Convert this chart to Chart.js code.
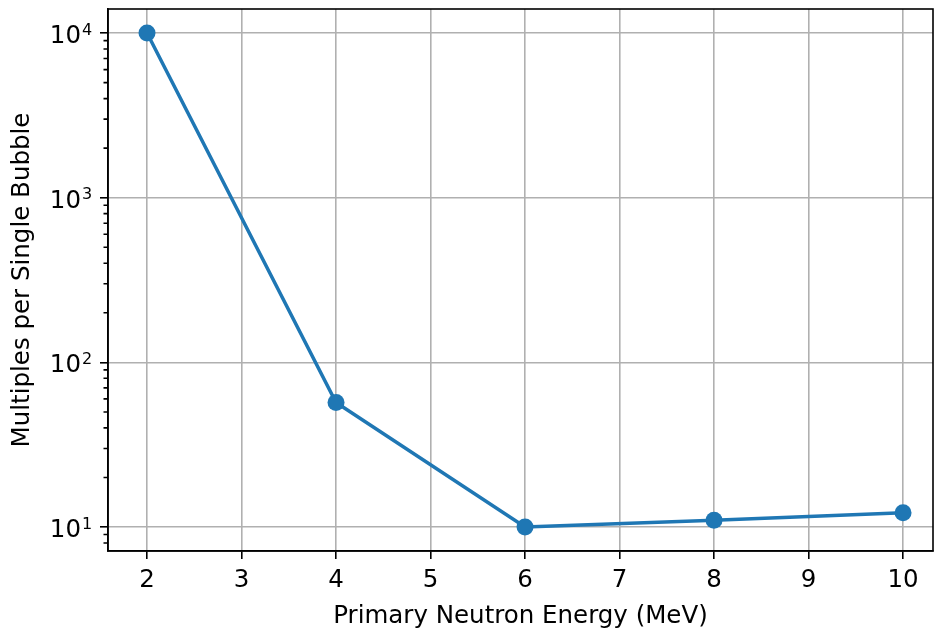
<!DOCTYPE html>
<html>
<head>
<meta charset="utf-8">
<script src="https://cdn.jsdelivr.net/npm/chart.js@4.4.1/dist/chart.umd.min.js"></script>
<style>
  html, body { margin: 0; padding: 0; background: #fff; }
  #wrap { width: 934px; height: 629px; }
</style>
</head>
<body>
<div id="wrap"><canvas id="bubbles"></canvas></div>
<script>
// primary neutron energy (MeV) vs multiples per single bubble
const energies = [2, 4, 6, 8, 10];
const multiples = [10000, 57, 10, 11, 12.2];

const xTicks = [2, 3, 4, 5, 6, 7, 8, 9, 10];
const yMajorTicks = [10, 100, 1000, 10000];

const FONT = 'DejaVu Sans';
const SIZE = 24.5;
const ctx = document.getElementById('bubbles');

// frame box, short minor ticks and 10^n labels on the log axis
const framePlugin = {
  id: 'frame',
  afterDraw(chart) {
    const { ctx, chartArea: a } = chart;
    const y = chart.scales.y;
    ctx.save();
    ctx.strokeStyle = '#000';
    ctx.lineWidth = 1.6;
    ctx.beginPath();
    for (let d = 1; d <= 10000; d *= 10) {
      for (let m = 2; m <= 9; m++) {
        const v = d * m;
        if (v < y.min || v > y.max) continue;
        const py = y.getPixelForValue(v);
        ctx.moveTo(a.left, py);
        ctx.lineTo(a.left - 4.5, py);
      }
    }
    ctx.stroke();
    ctx.strokeRect(a.left, a.top, a.right - a.left, a.bottom - a.top);

    ctx.fillStyle = '#000';
    ctx.textBaseline = 'alphabetic';
    y.ticks.forEach(t => {
      const py = y.getPixelForValue(t.value);
      const exp = String(Math.round(Math.log10(t.value)));
      ctx.font = SIZE + 'px "' + FONT + '"';
      ctx.textAlign = 'right';
      ctx.fillText('10', a.left - 27, py + 10);
      ctx.font = '16px "' + FONT + '"';
      ctx.textAlign = 'left';
      ctx.fillText(exp, a.left - 26, py + 1.5);
    });
    ctx.restore();
  }
};

new Chart(ctx, {
  type: 'line',
  data: {
    datasets: [{
      data: energies.map((e, i) => ({ x: e, y: multiples[i] })),
      borderColor: '#1f77b4',
      backgroundColor: '#1f77b4',
      borderWidth: 3.5,
      pointRadius: 8.5,
      pointBorderWidth: 0,
      pointHoverRadius: 8.5,
      tension: 0
    }]
  },
  options: {
    responsive: true,
    maintainAspectRatio: false,
    animation: false,
    layout: { autoPadding: false, padding: { top: 9, right: 1, left: 0, bottom: 0 } },
    plugins: { legend: { display: false }, tooltip: { enabled: false } },
    scales: {
      x: {
        type: 'linear',
        min: 1.587,
        max: 10.317,
        afterBuildTicks: (s) => { s.ticks = xTicks.map(v => ({ value: v })); },
        afterFit: (s) => {
          s.height = 78;
          s.paddingLeft = 0; s.paddingRight = 0;
        },
        border: { color: '#000', width: 1.6 },
        grid: { color: '#b0b0b0', lineWidth: 1.6, tickColor: '#000', tickLength: 8 },
        ticks: { color: '#000', font: { family: FONT, size: SIZE }, padding: 7, maxRotation: 0 },
        title: {
          display: true,
          text: 'Primary Neutron Energy (MeV)',
          color: '#000',
          font: { family: FONT, size: SIZE, lineHeight: 1 },
          padding: { top: 0, bottom: 0 }
        }
      },
      y: {
        type: 'logarithmic',
        min: 7.15,
        max: 14000,
        afterBuildTicks: (s) => { s.ticks = yMajorTicks.map(v => ({ value: v })); },
        afterFit: (s) => {
          s.width = 108;
          s.paddingTop = 0; s.paddingBottom = 0;
        },
        border: { color: '#000', width: 1.6 },
        grid: { color: '#b0b0b0', lineWidth: 1.6, tickColor: '#000', tickLength: 8 },
        ticks: {
          color: '#000',
          font: { family: FONT, size: SIZE },
          autoSkip: false,
          callback: () => ''
        },
        title: {
          display: true,
          text: 'Multiples per Single Bubble',
          color: '#000',
          font: { family: FONT, size: SIZE, lineHeight: 1 },
          padding: { top: 10.5, bottom: 0 }
        }
      }
    }
  },
  plugins: [framePlugin]
});
</script>
</body>
</html>
